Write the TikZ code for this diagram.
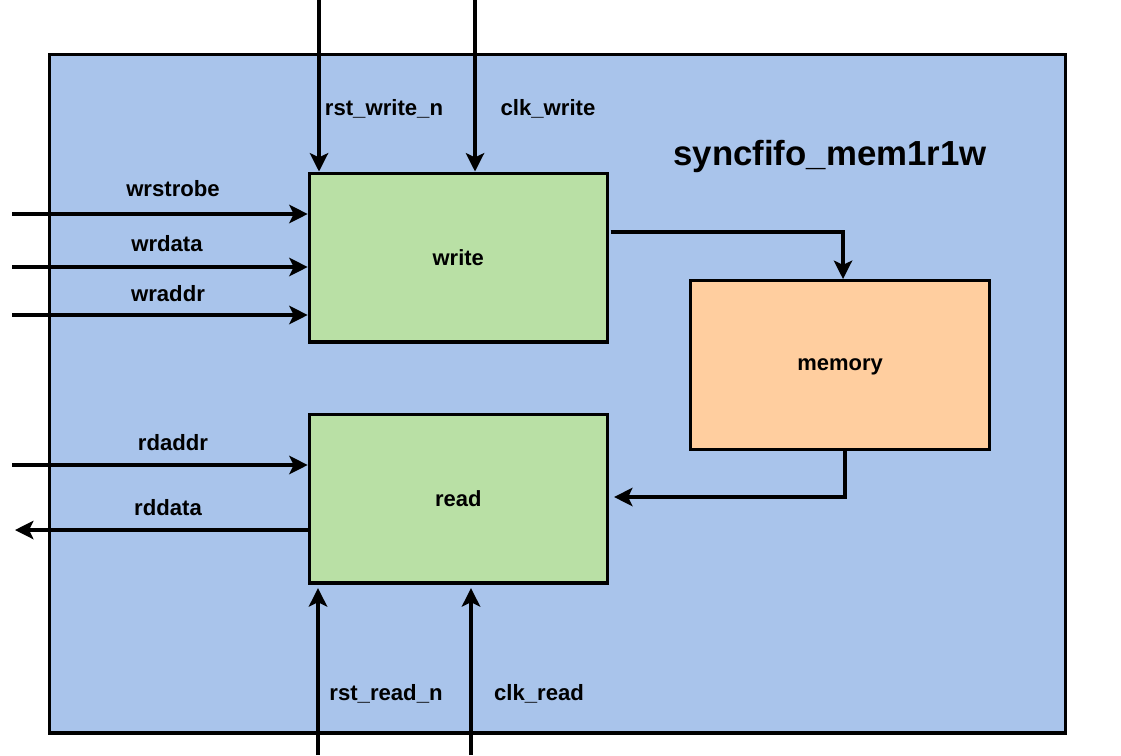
\documentclass[tikz,border=0pt]{standalone}
\usepackage{fontspec}
\setmainfont{Liberation Sans}
\usetikzlibrary{arrows.meta}
\definecolor{bgblue}{HTML}{A9C4EB}
\definecolor{boxgreen}{HTML}{B9E0A5}
\definecolor{boxorange}{HTML}{FFCE9F}
\tikzset{
  blk/.style={draw=black, line width=1.8pt, anchor=north west, inner sep=0pt, text depth=0pt, font=\fontsize{12.5}{14}\selectfont\bfseries},
  arr/.style={line width=1.8pt, -{Stealth[length=10.5pt,width=10.5pt,inset=2.5pt]}},
  lbl/.style={font=\fontsize{12.6}{14}\selectfont\bfseries, inner sep=0pt},
}
\begin{document}
\begin{tikzpicture}[x=0.02cm,y=-0.02cm]
\useasboundingbox (0,0) rectangle (1121,755);
\node[blk, fill=bgblue, minimum width=20.34cm, minimum height=13.58cm] (outer) at (47.5,52.5) {};
\node[blk, fill=boxgreen, minimum width=5.96cm, minimum height=3.38cm] (write) at (307.7,171.5) {write};
\node[blk, fill=boxgreen, minimum width=5.96cm, minimum height=3.38cm] (read) at (307.7,412.5) {read};
\node[blk, fill=boxorange, minimum width=5.98cm, minimum height=3.38cm] (memory) at (689,279) {memory};
\node[lbl, font=\fontsize{19.8}{22}\selectfont\bfseries] (title) at (830,156) {syncfifo\_mem1r1w};
% top inputs
\coordinate (rwn) at (319,0);
\coordinate (cw) at (475,0);
\draw[arr] (rwn) -- (rwn |- write.north);
\draw[arr] (cw) -- (cw |- write.north);
\node[lbl] (lrwn) at (384,109) {rst\_write\_n};
\node[lbl] (lcw) at (548,109) {clk\_write};
% bottom inputs
\coordinate (rrn) at (318,755);
\coordinate (cr) at (471,755);
\draw[arr] (rrn) -- ([yshift=-2pt]rrn |- read.south);
\draw[arr] (cr) -- ([yshift=-2pt]cr |- read.south);
\node[lbl] (lrrn) at (386,694) {rst\_read\_n};
\node[lbl] (lcr) at (539,694) {clk\_read};
% left inputs
\coordinate (ws) at (12,214);
\coordinate (wd) at (12,267);
\coordinate (wa) at (12,315);
\coordinate (ra) at (12,465);
\coordinate (rd) at (15,530);
\draw[arr] (ws) -- (ws -| write.west);
\draw[arr] (wd) -- (wd -| write.west);
\draw[arr] (wa) -- (wa -| write.west);
\draw[arr] (ra) -- (ra -| read.west);
\draw[arr] (rd -| read.west) -- (rd);
\node[lbl] (lws) at (173,189) {wrstrobe};
\node[lbl] (lwd) at (167,244) {wrdata};
\node[lbl] (lwa) at (168,294) {wraddr};
\node[lbl] (lra) at (173,443) {rdaddr};
\node[lbl] (lrd) at (168,508) {rddata};
% internal
\coordinate (wm) at (843,232);
\draw[arr] ([xshift=1pt]wm -| write.east) -| (wm |- memory.north);
\coordinate (mr) at (845,497);
\draw[arr] (mr |- memory.south) |- ([xshift=3pt]mr -| read.east);
\end{tikzpicture}
\end{document}
